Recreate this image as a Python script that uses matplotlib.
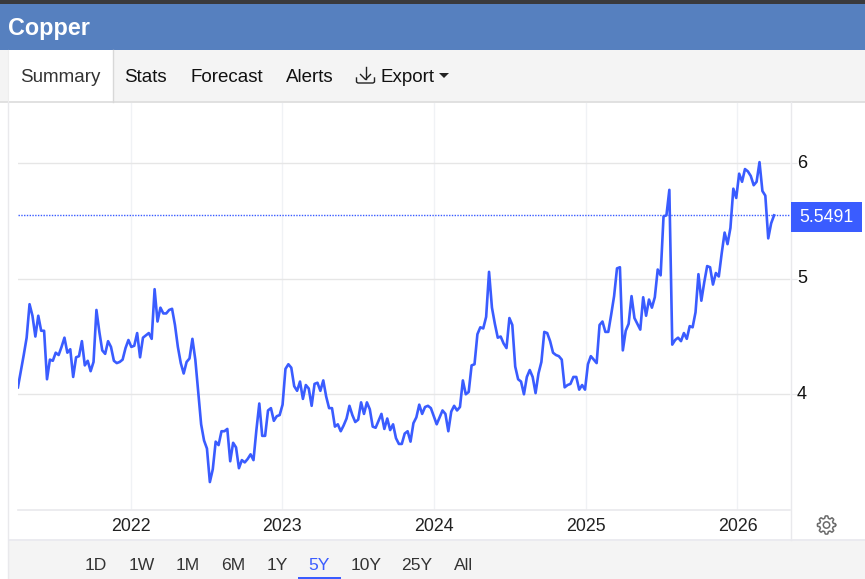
import numpy as np
import pandas as pd
import matplotlib
matplotlib.use("Agg")
import matplotlib.pyplot as plt
import matplotlib.dates as mdates
from matplotlib.patches import Rectangle, Polygon, Circle
from matplotlib.transforms import ScaledTranslation

plt.rcParams['font.family'] = ['Liberation Sans', 'DejaVu Sans']

title = "Copper"
tabs = ["Summary", "Stats", "Forecast", "Alerts", "Export"]
ranges = ["1D", "1W", "1M", "6M", "1Y", "5Y", "10Y", "25Y", "All"]
active_range = "5Y"
last_price = 5.5491
year_ticks = [2022, 2023, 2024, 2025, 2026]
price_ticks = [4, 5, 6]

prices_2021_22 = [
    4.06, 4.20, 4.34, 4.49, 4.78, 4.68, 4.50, 4.68, 4.55, 4.55, 4.13, 4.30, 4.29, 4.36, 4.34, 4.41,
    4.49, 4.36, 4.39, 4.15, 4.32, 4.33, 4.46, 4.25, 4.29, 4.20, 4.28, 4.73, 4.54, 4.38, 4.35, 4.46,
    4.41, 4.29, 4.27, 4.28, 4.30, 4.40, 4.47, 4.41, 4.42, 4.53, 4.32, 4.49, 4.51, 4.53, 4.48, 4.91,
    4.63, 4.75, 4.70, 4.70, 4.73, 4.74, 4.60, 4.41, 4.27, 4.18, 4.28, 4.31, 4.48, 4.30, 4.02, 3.74,
    3.60, 3.53, 3.24, 3.35, 3.59, 3.56, 3.68, 3.68, 3.70, 3.42, 3.58, 3.54, 3.36, 3.43, 3.41, 3.44,
    3.48, 3.43, 3.69, 3.92, 3.64, 3.64, 3.86, 3.88, 3.77, 3.81, 3.82, 3.91, 4.22, 4.26, 4.23, 4.07,
    4.03, 4.11,
]
prices_2023_24 = [
    3.96, 4.08, 4.05, 3.90, 4.09, 4.10, 4.03, 4.12, 3.98, 3.88, 3.88, 3.72, 3.74, 3.68, 3.73, 3.79,
    3.90, 3.82, 3.76, 3.78, 3.93, 3.83, 3.93, 3.87, 3.72, 3.71, 3.77, 3.83, 3.70, 3.79, 3.69, 3.74,
    3.62, 3.57, 3.57, 3.66, 3.68, 3.59, 3.75, 3.80, 3.91, 3.83, 3.89, 3.90, 3.88, 3.81, 3.74, 3.80,
    3.86, 3.83, 3.68, 3.85, 3.90, 3.86, 3.89, 4.12, 4.00, 4.02, 4.25, 4.26, 4.52, 4.58, 4.57, 4.67,
    5.06, 4.75, 4.61, 4.49, 4.50, 4.44, 4.40, 4.66, 4.60, 4.24, 4.13, 4.11, 4.00, 4.15, 4.21, 4.15,
    4.01, 4.18, 4.28, 4.54, 4.53, 4.46, 4.36, 4.34, 4.33, 4.30, 4.06, 4.08, 4.09, 4.15, 4.15, 4.04,
]
prices_2025_26 = [
    4.08, 4.04, 4.26, 4.33, 4.30, 4.27, 4.60, 4.63, 4.54, 4.54, 4.69, 4.85, 5.09, 5.10, 4.38, 4.55,
    4.61, 4.85, 4.66, 4.61, 4.56, 4.84, 4.68, 4.82, 4.75, 4.84, 5.08, 5.03, 5.54, 5.55, 5.77, 4.43,
    4.47, 4.49, 4.46, 4.53, 4.48, 4.59, 4.58, 4.71, 5.04, 4.81, 4.97, 5.11, 5.10, 4.95, 5.05, 5.02,
    5.22, 5.40, 5.30, 5.44, 5.78, 5.70, 5.91, 5.84, 5.95, 5.93, 5.89, 5.81, 5.84, 6.01, 5.76, 5.72,
    5.35, 5.48, last_price,
]
prices = prices_2021_22 + prices_2023_24 + prices_2025_26
dates = pd.date_range(end="2026-03-30", periods=len(prices), freq="7D")

W, H = 865, 579
fig = plt.figure(figsize=(W / 100, H / 100), dpi=100, facecolor="white")

# page chrome in pixel coordinates
bg = fig.add_axes([0, 0, 1, 1], zorder=0)
bg.set_xlim(0, W); bg.set_ylim(H, 0); bg.axis("off")
GRID = "#e9e9ec"
bg.add_patch(Rectangle((0, 0), W, 3.5, fc="#3a3a3c", ec="none"))
bg.add_patch(Rectangle((0, 3.5), W, 46, fc="#5680bf", ec="none"))
bg.add_patch(Rectangle((0, 49.5), W, 52, fc="#f4f4f4", ec="none"))
bg.plot([0, W], [101.5, 101.5], color="#dcdcdc", lw=1.2)
bg.add_patch(Rectangle((8.5, 49.5), 104, 54, fc="white", ec="none"))
bg.plot([112.5, 112.5], [50, 101.5], color="#d8d8d8", lw=1.0)
bg.plot([8.2, 8.2], [50, 101], color="#eeeeee", lw=0.8)
bg.plot([8.2, 8.2], [102, 579], color=GRID, lw=1.0)
bg.plot([790.5, 790.5], [102, 540], color=GRID, lw=1.0)
bg.add_patch(Rectangle((8.5, 540), W, 39, fc="#f4f4f4", ec="none"))
bg.plot([8.5, W], [540, 540], color="#e8e8ee", lw=1.2)

bg.text(8, 28.2, title, color="white", fontsize=16.8, fontweight="bold", va="center", ha="left")
tab_x = [20.5, 124.5, 190, 285.5, 380.5]
for name, x in zip(tabs, tab_x):
    bg.text(x, 77.2, name, fontsize=13.5, va="center", ha="left",
            color="#333333" if name == "Summary" else "#111111")
# download icon and caret
bg.plot([365.5, 365.5], [66.5, 79], color="#222222", lw=1.0)
bg.plot([360.5, 365.5, 370.5], [74.5, 79.5, 74.5], color="#222222", lw=1.0)
bg.plot([356.5, 356.5, 358, 373, 374.5, 374.5], [78, 82, 83, 83, 82, 78], color="#222222", lw=1.0)
bg.add_patch(Polygon([[439, 73], [449, 73], [444, 78]], fc="#222222", ec="none"))

range_x = [96, 142, 188, 233, 277, 319, 366, 417, 464]
for name, x in zip(ranges, range_x):
    bg.text(x, 565.5, name, fontsize=12.6, va="center", ha="center",
            color="#3a5cff" if name == active_range else "#333333")
bg.add_patch(Rectangle((298, 577), 43, 1.6, fc="#3a5cff", ec="none"))

# settings gear
cx, cy = 826.5, 525
ang = np.linspace(0, 2 * np.pi, 161)
rad = 7.0 + 2.2 * np.clip(2.4 * np.cos(8 * ang), -1, 1) * 0.5 + 1.0
bg.plot(cx + rad * np.cos(ang), cy + rad * np.sin(ang), color="#6b6b6b", lw=1.1)
bg.add_patch(Circle((cx, cy), 3.2, fc="none", ec="#6b6b6b", lw=1.1))

# chart
L, R, T, B = 18, 790, 103, 510
ax = fig.add_axes([L / W, 1 - B / H, (R - L) / W, (B - T) / H], zorder=1)
ax.patch.set_alpha(0)
ref = mdates.date2num(pd.Timestamp("2022-01-01"))
ax.set_xlim(ref - 270.8, ref + 1461 + 126.4)
ax.set_ylim(2.998, 6.522)
for s in ax.spines.values():
    s.set_visible(False)
ax.spines["bottom"].set_visible(True)
ax.spines["bottom"].set_color(GRID)
ax.spines["bottom"].set_linewidth(1.2)

ax.set_xticks([pd.Timestamp(f"{y}-01-01") for y in year_ticks])
ax.set_xticklabels([str(y) for y in year_ticks], fontsize=12.8, color="#222222")
ax.tick_params(axis="x", length=0, pad=6)
ax.yaxis.tick_right()
ax.set_yticks(price_ticks)
ax.set_yticklabels([str(v) for v in price_ticks], fontsize=13, color="#111111", va="center_baseline")
ax.tick_params(axis="y", length=5, width=0.9, color=GRID, pad=0)
lift = ScaledTranslation(0, 2 / 100, fig.dpi_scale_trans)
for lab in ax.get_yticklabels():
    lab.set_transform(lab.get_transform() + lift)
ax.grid(True, axis="y", color="#e6e6e6", lw=1.0)
ax.grid(True, axis="x", color="#f0f2f5", lw=1.0)
ax.set_axisbelow(True)

ax.axhline(last_price, color="#3a5cff", lw=1.0, ls=(0, (1, 1)), zorder=2)
ax.plot(dates, prices, color="#3a5cff", lw=1.9, solid_joinstyle="round", zorder=3)

bg2 = fig.add_axes([0, 0, 1, 1], zorder=2)
bg2.set_xlim(0, W); bg2.set_ylim(H, 0); bg2.axis("off")
bg2.add_patch(Rectangle((791, 202), 71, 30, fc="#3a5cff", ec="none"))
bg2.text(826, 218, f"{last_price:.4f}", color="white", fontsize=12.8, va="center", ha="center")

fig.savefig("out.png", dpi=100)
